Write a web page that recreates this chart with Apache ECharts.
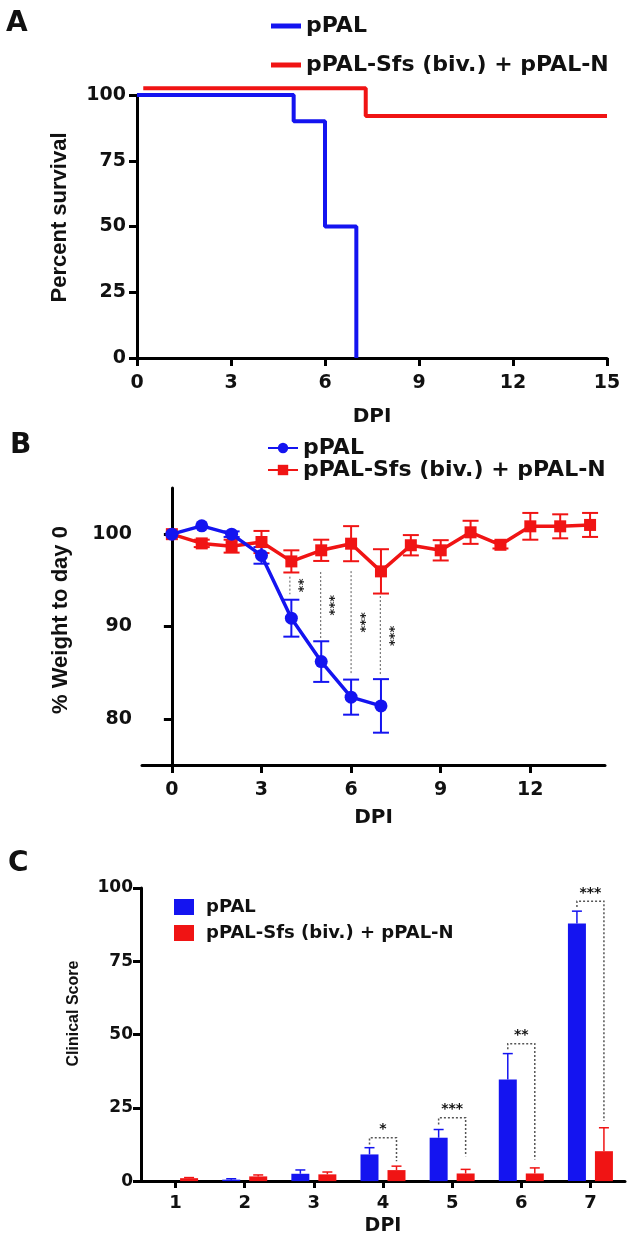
<!DOCTYPE html>
<html>
<head>
<meta charset="utf-8">
<script src="https://cdn.jsdelivr.net/npm/echarts@6.0.0/dist/echarts.min.js"></script>
<style>
  html, body { margin: 0; padding: 0; background: #fff; }
  .panel { position: absolute; left: 0; width: 633px; }
  #a { top: 0; height: 432px; }
  #b { top: 432px; height: 403px; }
  #c { top: 835px; height: 406px; }
</style>
</head>
<body>
<div id="a" class="panel"></div>
<div id="b" class="panel"></div>
<div id="c" class="panel"></div>
<script>
// ---- data ----
var names = ['pPAL', 'pPAL-Sfs (biv.) + pPAL-N'];

// A: survival (step curves)
var survBlueX = [0, 5, 6, 7];
var survBlueY = [100, 90, 50, 0];
var survRedX = [0.2, 7.3, 15];
var survRedY = [102.6, 92, 92];

// B: weight
var wBlueDays = [0, 1, 2, 3, 4, 5, 6, 7];
var wBlue = [100, 100.9, 100, 97.7, 90.9, 86.2, 82.35, 81.4];
var wBlueErr = [0, 0, 0.3, 0.9, 2.0, 2.2, 1.9, 2.9];
var wRedDays = [0, 1, 2, 3, 4, 5, 6, 7, 8, 9, 10, 11, 12, 13, 14];
var wRed = [100, 99.0, 98.7, 99.15, 97.05, 98.25, 98.97, 95.97, 98.8, 98.25, 100.2, 98.85, 100.85, 100.85, 101.0];
var wRedErr = [0, 0.4, 0.7, 1.2, 1.2, 1.15, 1.9, 2.4, 1.1, 1.1, 1.25, 0.4, 1.45, 1.3, 1.3];
var sigX = [3.95, 4.98, 6.0, 6.98];
var sigTop = [95.4, 95.9, 96.0, 93.3];
var sigBottom = [93.5, 88.7, 84.9, 84.65];
var sigLabel = ['**', '***', '***', '***'];

// C: clinical score
var scoreDays = ['1', '2', '3', '4', '5', '6', '7'];
var scoreBlue = [0, 0.5, 2.5, 9.1, 14.8, 34.7, 87.9];
var scoreBlueErr = [0, 0.3, 1.3, 2.3, 2.8, 8.8, 4.2];
var scoreRed = [1.0, 1.6, 2.3, 3.75, 2.6, 2.6, 10.2];
var scoreRedErr = [0.2, 0.5, 0.8, 1.35, 1.4, 1.9, 8.0];
var brDay = [3, 4, 5, 6];
var brLeft = [12.5, 19.3, 45, 93.5];
var brLevel = [14.8, 21.6, 46.9, 95.5];
var brRight = [6.8, 8.5, 7.4, 20.5];
var brLabel = ['*', '***', '**', '***'];

// ---- styles ----
var BLUE = '#1414f0';
var RED = '#f01414';
var INK = '#111';
var TXT = 'DejaVu Sans';
var NAME_FONT = 'Liberation Sans';

function zip(a, b) { return a.map(function (v, i) { return [v, b[i]]; }); }
function zip3(a, b, c) { return a.map(function (v, i) { return [v, b[i], c[i]]; }); }

function axisCommon(labelSize, margin) {
  return {
    axisLine: { show: true, lineStyle: { color: '#000', width: 3 } },
    axisTick: { show: true, length: 8, lineStyle: { color: '#000', width: 3 } },
    axisLabel: { margin: margin, fontFamily: TXT, fontWeight: 'bold', fontSize: labelSize, color: INK },
    splitLine: { show: false }
  };
}

function panelLetter(t, left, top) {
  return { type: 'text', left: left, top: top, style: { text: t, font: 'bold 28px "' + TXT + '"', fill: INK } };
}

// ---- A ----
var chartA = echarts.init(document.getElementById('a'));
var axA = axisCommon(19, 16), ayA = axisCommon(19, 11);
chartA.setOption({
  animation: false,
  graphic: [panelLetter('A', 6, 10)],
  legend: {
    left: 266, top: 10, orient: 'vertical', icon: 'rect',
    itemWidth: 30, itemHeight: 5, itemGap: 17,
    textStyle: { fontFamily: TXT, fontWeight: 'bold', fontSize: 22, color: INK },
    data: names
  },
  grid: { left: 137, top: 95, width: 470, height: 271 },
  xAxis: Object.assign(axA, {
    type: 'value', min: 0, max: 15, interval: 3,
    name: 'DPI', nameLocation: 'middle', nameGap: 49,
    nameTextStyle: { fontFamily: TXT, fontWeight: 'bold', fontSize: 20, color: INK }
  }),
  yAxis: Object.assign(ayA, {
    type: 'value', min: 0, max: 100, interval: 25,
    name: 'Percent survival', nameLocation: 'middle', nameGap: 66,
    nameTextStyle: { fontFamily: NAME_FONT, fontWeight: 'bold', fontSize: 22, color: INK, padding: [0, 0, 0, 18] }
  }),
  series: [
    { name: names[0], type: 'line', step: 'end', clip: false, showSymbol: false,
      data: zip(survBlueX, survBlueY), itemStyle: { color: BLUE },
      lineStyle: { color: BLUE, width: 4 } },
    { name: names[1], type: 'line', step: 'end', clip: false, showSymbol: false,
      data: zip(survRedX, survRedY), itemStyle: { color: RED },
      lineStyle: { color: RED, width: 4 } }
  ]
});

// ---- B ----
function errBars(color, cap) {
  return function (params, api) {
    var x = api.value(0), y = api.value(1), e = api.value(2);
    if (!e) return null;
    var t = api.coord([x, y + e]), b = api.coord([x, y - e]);
    var st = { stroke: color, lineWidth: 2 };
    return { type: 'group', children: [
      { type: 'line', shape: { x1: t[0], y1: t[1], x2: b[0], y2: b[1] }, style: st },
      { type: 'line', shape: { x1: t[0] - cap, y1: t[1], x2: t[0] + cap, y2: t[1] }, style: st },
      { type: 'line', shape: { x1: b[0] - cap, y1: b[1], x2: b[0] + cap, y2: b[1] }, style: st }
    ] };
  };
}

var chartB = echarts.init(document.getElementById('b'));
var axB = axisCommon(19, 16), ayB = axisCommon(19, 10);
axB.axisLabel.customValues = [0, 3, 6, 9, 12];
axB.axisTick.customValues = [0, 3, 6, 9, 12];
ayB.axisLabel.customValues = [80, 90, 100];
ayB.axisTick.customValues = [80, 90, 100];
chartB.setOption({
  animation: false,
  graphic: [panelLetter('B', 10, 0)],
  legend: {
    left: 262, top: 0, orient: 'vertical',
    itemWidth: 30, itemHeight: 13, itemGap: 0,
    textStyle: { fontFamily: TXT, fontWeight: 'bold', fontSize: 22, lineHeight: 22, color: INK },
    data: names
  },
  grid: { left: 142, top: 56, width: 463, height: 277 },
  xAxis: Object.assign(axB, {
    type: 'value', min: -1, max: 14.5,
    name: 'DPI', nameLocation: 'middle', nameGap: 43,
    nameTextStyle: { fontFamily: TXT, fontWeight: 'bold', fontSize: 20, color: INK }
  }),
  yAxis: Object.assign(ayB, {
    type: 'value', min: 75, max: 105,
    name: '% Weight to day 0', nameLocation: 'middle', nameGap: 70,
    nameTextStyle: { fontFamily: NAME_FONT, fontWeight: 'bold', fontSize: 22, color: INK, padding: [0, 0, 0, 13] }
  }),
  series: [
    { type: 'custom', renderItem: errBars(RED, 8), data: zip3(wRedDays, wRed, wRedErr), z: 2 },
    { type: 'custom', renderItem: errBars(BLUE, 8), data: zip3(wBlueDays, wBlue, wBlueErr), z: 2 },
    { name: names[1], type: 'line', data: zip(wRedDays, wRed), symbol: 'rect', symbolSize: 12,
      itemStyle: { color: RED }, lineStyle: { color: RED, width: 3.5 }, z: 3 },
    { name: names[0], type: 'line', data: zip(wBlueDays, wBlue), symbol: 'circle', symbolSize: 13,
      itemStyle: { color: BLUE }, lineStyle: { color: BLUE, width: 3.5 }, z: 4 },
    { type: 'custom', data: zip3(sigX, sigTop, sigBottom), z: 1,
      renderItem: function (params, api) {
        var p1 = api.coord([api.value(0), api.value(1)]);
        var p2 = api.coord([api.value(0), api.value(2)]);
        return { type: 'group', children: [
          { type: 'line', shape: { x1: p1[0], y1: p1[1], x2: p2[0], y2: p2[1] },
            style: { stroke: '#777', lineWidth: 1.2, lineDash: [2, 2] } },
          { type: 'text', x: p1[0] + 9, y: (p1[1] + p2[1]) / 2, rotation: -Math.PI / 2,
            style: { text: sigLabel[params.dataIndex], font: 'bold 13px "' + TXT + '"', fill: '#222',
                     align: 'center', verticalAlign: 'middle' } }
        ] };
      } }
  ]
});

// ---- C ----
var BAR_W = 18;
var OFF = (BAR_W + BAR_W * 0.5) / 2;

function upErr(color, side) {
  return function (params, api) {
    var i = api.value(0), v = api.value(1), e = api.value(2);
    if (!e) return null;
    var b = api.coord([i, v]), t = api.coord([i, v + e]);
    var x = b[0] + side * OFF;
    var st = { stroke: color, lineWidth: 1.5 };
    return { type: 'group', children: [
      { type: 'line', shape: { x1: x, y1: b[1], x2: x, y2: t[1] }, style: st },
      { type: 'line', shape: { x1: x - 5, y1: t[1], x2: x + 5, y2: t[1] }, style: st }
    ] };
  };
}

var chartC = echarts.init(document.getElementById('c'));
var axC = axisCommon(18, 13), ayC = axisCommon(17, 8);
axC.axisTick.alignWithLabel = true;
axC.axisTick.length = 7;
chartC.setOption({
  animation: false,
  graphic: [panelLetter('C', 8, 15)],
  legend: {
    left: 169, top: 58, orient: 'vertical', icon: 'rect',
    itemWidth: 20, itemHeight: 16, itemGap: 8,
    textStyle: { fontFamily: TXT, fontWeight: 'bold', fontSize: 18, color: INK, padding: [0, 0, 0, 7] },
    data: names
  },
  grid: { left: 141, top: 53, width: 484, height: 293.5 },
  xAxis: Object.assign(axC, {
    type: 'category', data: scoreDays,
    name: 'DPI', nameLocation: 'middle', nameGap: 34,
    nameTextStyle: { fontFamily: TXT, fontWeight: 'bold', fontSize: 19, color: INK }
  }),
  yAxis: Object.assign(ayC, {
    type: 'value', min: 0, max: 100, interval: 25,
    name: 'Clinical Score', nameLocation: 'middle', nameGap: 59,
    nameTextStyle: { fontFamily: NAME_FONT, fontWeight: 'bold', fontSize: 16, color: INK, padding: [0, 0, 0, 42] }
  }),
  series: [
    { name: names[0], type: 'bar', data: scoreBlue, barWidth: BAR_W, barGap: '50%', itemStyle: { color: BLUE } },
    { name: names[1], type: 'bar', data: scoreRed, barWidth: BAR_W, barGap: '50%', itemStyle: { color: RED } },
    { type: 'custom', renderItem: upErr(BLUE, -1), z: 3,
      data: scoreBlue.map(function (v, i) { return [i, v, scoreBlueErr[i]]; }) },
    { type: 'custom', renderItem: upErr(RED, 1), z: 3,
      data: scoreRed.map(function (v, i) { return [i, v, scoreRedErr[i]]; }) },
    { type: 'custom', z: 4,
      data: brDay.map(function (d, i) { return [d, brLeft[i], brLevel[i], brRight[i]]; }),
      renderItem: function (params, api) {
        var i = api.value(0);
        var l = api.coord([i, api.value(1)]), m = api.coord([i, api.value(2)]), r = api.coord([i, api.value(3)]);
        var xl = m[0] - OFF, xr = m[0] + OFF;
        return { type: 'group', children: [
          { type: 'polyline', shape: { points: [[xl, l[1]], [xl, m[1]], [xr, m[1]], [xr, r[1]]] },
            style: { stroke: '#555', lineWidth: 1.5, lineDash: [2, 2], fill: null } },
          { type: 'text', x: (xl + xr) / 2, y: m[1] - 1,
            style: { text: brLabel[params.dataIndex], font: 'bold 14px "' + TXT + '"', fill: INK,
                     align: 'center', verticalAlign: 'bottom' } }
        ] };
      } }
  ]
});
</script>
</body>
</html>
